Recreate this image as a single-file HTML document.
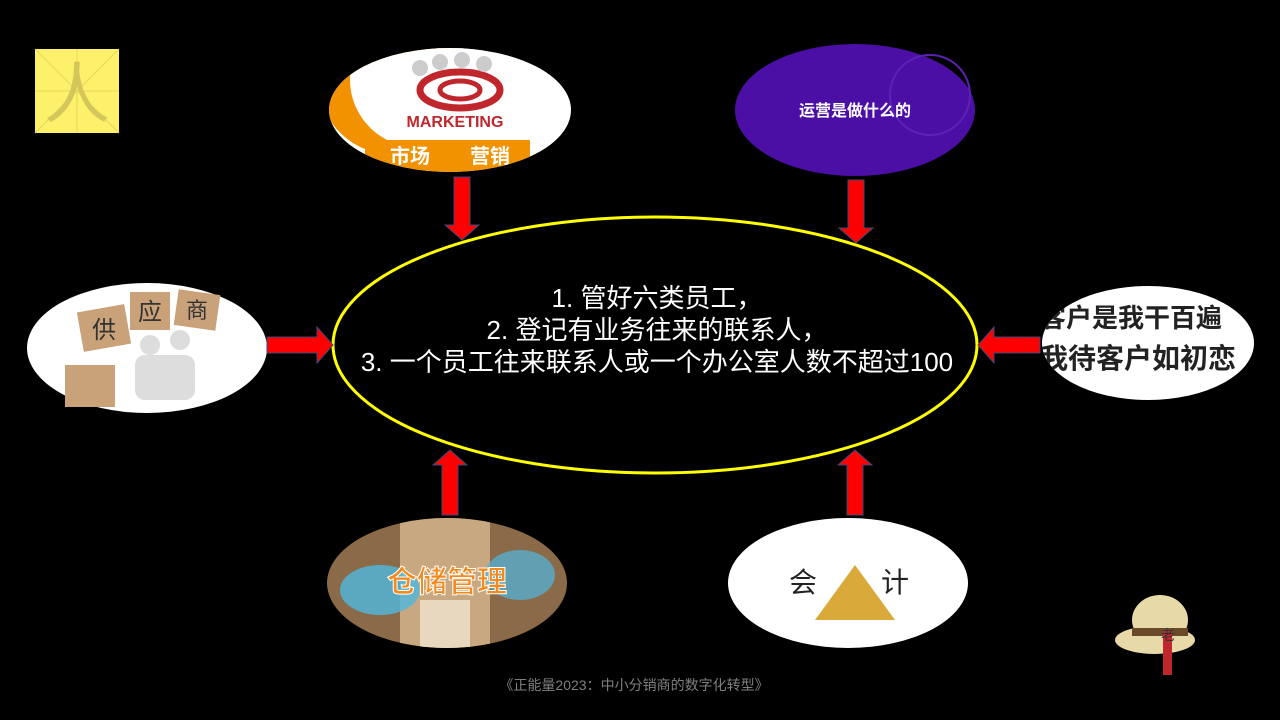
<!DOCTYPE html>
<html><head><meta charset="utf-8"><style>
body{margin:0;width:1280px;height:720px;background:#000;overflow:hidden}
svg{display:block}
</style></head><body>
<svg width="1280" height="720" viewBox="0 0 1280 720" xmlns="http://www.w3.org/2000/svg" font-family="Liberation Sans, Noto Sans CJK SC, sans-serif">
<rect width="1280" height="720" fill="#000"/>
<rect x="35" y="49" width="84" height="84" fill="#fdf06a"/>
<g stroke="#e6d75a" stroke-width="1"><line x1="35" y1="49" x2="119" y2="133"/><line x1="119" y1="49" x2="35" y2="133"/><line x1="77" y1="49" x2="77" y2="133"/><line x1="35" y1="91" x2="119" y2="91"/></g>
<text x="77" y="117" font-size="66" fill="#d4c65a" text-anchor="middle">人</text>
<defs>
<clipPath id="c1"><ellipse cx="450" cy="110" rx="121" ry="62"/></clipPath>
<clipPath id="c5"><ellipse cx="447" cy="583" rx="120" ry="65"/></clipPath>
<clipPath id="c4"><ellipse cx="1148" cy="343" rx="106" ry="57"/></clipPath>
</defs>
<g clip-path="url(#c1)">
<rect x="329" y="48" width="242" height="124" fill="#fff"/>
<ellipse cx="395" cy="85" rx="75" ry="70" fill="#f39200"/>
<ellipse cx="420" cy="80" rx="70" ry="68" fill="#fff"/>
<rect x="365" y="140" width="165" height="32" fill="#f39200"/>
<text x="410" y="163" font-size="20" fill="#fff" text-anchor="middle" font-weight="bold">市场</text>
<text x="490" y="163" font-size="20" fill="#fff" text-anchor="middle" font-weight="bold">营销</text>
<ellipse cx="460" cy="90" rx="40" ry="18" fill="none" stroke="#c0272d" stroke-width="7"/>
<ellipse cx="460" cy="90" rx="20" ry="9" fill="none" stroke="#c0272d" stroke-width="5"/>
<g fill="#ccc"><circle cx="420" cy="68" r="8"/><circle cx="440" cy="62" r="8"/><circle cx="462" cy="60" r="8"/><circle cx="484" cy="64" r="8"/></g>
<text x="455" y="127" font-size="16" fill="#c0272d" font-weight="bold" text-anchor="middle">MARKETING</text>
</g>
<ellipse cx="855" cy="110" rx="120" ry="66" fill="#4b0fa5"/>
<circle cx="930" cy="95" r="40" fill="none" stroke="#5a22b5" stroke-width="2"/>
<text x="855" y="116" font-size="16" fill="#fff" font-weight="bold" text-anchor="middle">运营是做什么的</text>
<ellipse cx="147" cy="348" rx="120" ry="65" fill="#fff"/>
<g fill="#c9a27a"><rect x="80" y="308" width="48" height="40" transform="rotate(-10 104 328)"/><rect x="130" y="292" width="40" height="38"/><rect x="176" y="292" width="42" height="36" transform="rotate(8 197 310)"/><rect x="65" y="365" width="50" height="42"/></g>
<text x="104" y="338" font-size="24" fill="#333" text-anchor="middle">供</text>
<text x="150" y="320" font-size="24" fill="#333" text-anchor="middle">应</text>
<text x="197" y="318" font-size="22" fill="#333" text-anchor="middle">商</text>
<g fill="#ddd"><circle cx="150" cy="345" r="10"/><circle cx="180" cy="340" r="10"/><rect x="135" y="355" width="60" height="45" rx="10"/></g>
<g clip-path="url(#c4)">
<rect x="1040" y="286" width="215" height="114" fill="#fff"/>
<text x="1040" y="327" font-size="26" fill="#222" font-weight="bold">客户是我干百遍</text>
<text x="1040" y="368" font-size="28" fill="#222" font-weight="bold">我待客户如初恋</text>
</g>
<g clip-path="url(#c5)">
<rect x="327" y="518" width="240" height="130" fill="#8a6a48"/>
<rect x="400" y="518" width="90" height="130" fill="#c8a880"/>
<rect x="420" y="600" width="50" height="48" fill="#e8d8c0"/>
<ellipse cx="380" cy="590" rx="40" ry="25" fill="#4fb8e0" opacity="0.8"/>
<ellipse cx="520" cy="575" rx="35" ry="25" fill="#4fb8e0" opacity="0.7"/>
<text x="447" y="592" font-size="30" fill="#f28a1e" font-weight="bold" text-anchor="middle" stroke="#fff" stroke-width="1">仓储管理</text>
</g>
<ellipse cx="848" cy="583" rx="120" ry="65" fill="#fff"/>
<polygon points="855,565 815,620 895,620" fill="#d9a93a"/>
<text x="803" y="592" font-size="28" fill="#222" text-anchor="middle">会</text>
<text x="895" y="592" font-size="28" fill="#222" text-anchor="middle">计</text>
<ellipse cx="655" cy="345" rx="322" ry="128" fill="#000" stroke="#ffff00" stroke-width="3"/>
<g fill="#fff" font-size="26" text-anchor="middle">
<text x="657" y="307">1. 管好六类员工，</text>
<text x="657" y="339">2. 登记有业务往来的联系人，</text>
<text x="657" y="371">3. 一个员工往来联系人或一个办公室人数不超过100</text>
</g>
<g fill="#ff0000" stroke="#3a4a7a" stroke-width="1">
<polygon points="454,177 470,177 470,225 479,225 462,240 445,225 454,225"/>
<polygon points="848,180 864,180 864,228 873,228 856,243 839,228 848,228"/>
<polygon points="442,515 458,515 458,465 467,465 450,450 433,465 442,465"/>
<polygon points="847,515 863,515 863,465 872,465 855,450 838,465 847,465"/>
<polygon points="267,337 317,337 317,327 333,345 317,363 317,353 267,353"/>
<polygon points="1040,337 994,337 994,327 978,345 994,363 994,353 1040,353"/>
</g>
<ellipse cx="1155" cy="640" rx="40" ry="14" fill="#e8d9a8"/>
<ellipse cx="1160" cy="620" rx="28" ry="25" fill="#e8d9a8"/>
<rect x="1132" y="628" width="56" height="8" fill="#6b4a2a"/>
<rect x="1163" y="630" width="9" height="45" fill="#c0272d"/>
<text x="1168" y="640" font-size="14" fill="#333" text-anchor="middle">老</text>
<text x="634" y="690" font-size="14" fill="#7f7f7f" text-anchor="middle">《正能量2023：中小分销商的数字化转型》</text>
</svg>
</body></html>
